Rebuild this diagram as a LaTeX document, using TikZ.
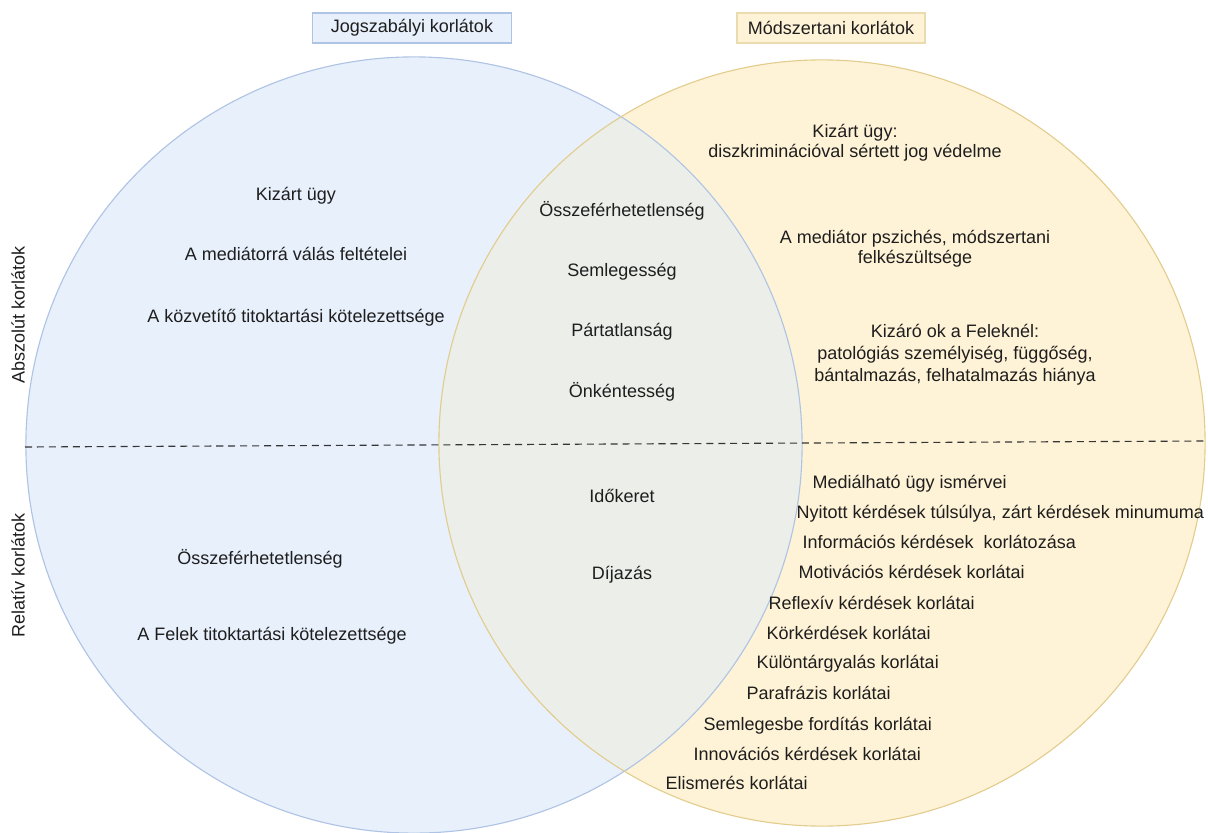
\documentclass[tikz,border=0pt]{standalone}
\usepackage{fontspec}
\setmainfont{Liberation Sans}
\usepackage{xcolor}
\usepackage{tikz}
\usetikzlibrary{positioning}

\definecolor{jogfill}{HTML}{E8F0FC}
\definecolor{jogline}{HTML}{AFC4E4}
\definecolor{modfill}{HTML}{FFF3D7}
\definecolor{modline}{HTML}{E3CD8E}
\definecolor{kozosfill}{HTML}{ECEEE9}
\definecolor{inkgray}{HTML}{1E1E1E}

\begin{document}
\begin{tikzpicture}
  [
    x=0.025cm, y=-0.025cm,
    font=\fontsize{12.8}{15}\selectfont,
    every node/.style={text=inkgray},
    item/.style={inner sep=1pt,text height=9.2pt,text depth=2.6pt},
    listitem/.style={item,anchor=west},
    block/.style={inner sep=1pt,align=center,font=\fontsize{12.8}{14.4}\selectfont},
    titlebox/.style={rectangle,thick,minimum height=0.75cm,inner sep=2pt},
    jogtitle/.style={titlebox,draw=jogline,fill=jogfill,minimum width=4.975cm},
    modtitle/.style={titlebox,draw=modline!70,fill=modfill,minimum width=4.7cm},
    sidelabel/.style={rotate=90,inner sep=1pt}
  ]
  \useasboundingbox (0,0) rectangle (1208,833);

  % the two sets
  \fill[jogfill] (414,445) circle[radius=9.7cm];
  \fill[modfill] (822,443) circle[radius=9.575cm];
  \begin{scope}
    \clip (414,445) circle[radius=9.7cm];
    \fill[kozosfill] (822,443) circle[radius=9.575cm];
  \end{scope}
  \draw[jogline,thick] (414,445) circle[radius=9.7cm];
  \draw[modline,thick] (822,443) circle[radius=9.575cm];

  % titles
  \node[jogtitle] (jogcim) at (412,28) {Jogszabályi korlátok};
  \node[modtitle] (modcim) at (831,28) {Módszertani korlátok};

  % absolute / relative
  \coordinate (hatarbal) at (25,447);
  \coordinate (hatarjobb) at (1205,441);
  \draw[inkgray!90,thick,dash pattern=on 5pt off 3.5pt] (hatarbal) -- (hatarjobb);
  \node[sidelabel] (abszolut) at (18,315) {Abszolút korlátok};
  \node[sidelabel] (relativ) at (18,575) {Relatív korlátok};

  % legal only
  \node[item] (kizart) at (296,196) {Kizárt ügy};
  \node[item] (mediatorra) [on grid,below=1.5cm of kizart] {A mediátorrá válás feltételei};
  \node[item] (kozvetito) [on grid,below=1.55cm of mediatorra] {A közvetítő titoktartási kötelezettsége};
  \node[item] (osszefbal) at (260,560) {Összeférhetetlenség};
  \node[item] (felek) at (272,636) {A Felek titoktartási kötelezettsége};

  % both
  \node[item] (osszef) at (622,212) {Összeférhetetlenség};
  \node[item] (semleges) [on grid,below=1.5cm of osszef] {Semlegesség};
  \node[item] (partatlan) [on grid,below=1.5cm of semleges] {Pártatlanság};
  \node[item] (onkentes) [on grid,below=1.52cm of partatlan] {Önkéntesség};
  \node[item] (idokeret) at (622,498) {Időkeret};
  \node[item] (dijazas) [on grid,below=1.925cm of idokeret] {Díjazás};

  % method only
  \node[block] (kizartmod) at (855,143) {Kizárt ügy:\\diszkriminációval sértett jog védelme};
  \node[block] (pszich) at (915,249) {A mediátor pszichés, módszertani\\felkészültsége};
  \node[block,font=\fontsize{12.8}{15.6}\selectfont] (kizaro) at (955,355)
    {Kizáró ok a Feleknél:\\patológiás személyiség, függőség,\\bántalmazás, felhatalmazás hiánya};

  \node[listitem] (medialhato) at (811,484) {Mediálható ügy ismérvei};
  \node[listitem] (nyitott) at (795,514) {Nyitott kérdések túlsúlya, zárt kérdések minumuma};
  \node[listitem] (informacios) at (801,544) {Információs kérdések\ \ korlátozása};
  \node[listitem] (motivacios) at (797,574) {Motivációs kérdések korlátai};
  \node[listitem] (reflexiv) at (767,605) {Reflexív kérdések korlátai};
  \node[listitem] (korkerdes) at (765,635) {Körkérdések korlátai};
  \node[listitem] (kulon) at (755,664) {Különtárgyalás korlátai};
  \node[listitem] (parafrazis) at (745,695) {Parafrázis korlátai};
  \node[listitem] (semlegesbe) at (702,726) {Semlegesbe fordítás korlátai};
  \node[listitem] (innovacios) at (692,756) {Innovációs kérdések korlátai};
  \node[listitem] (elismeres) at (664,785) {Elismerés korlátai};
\end{tikzpicture}
\end{document}
